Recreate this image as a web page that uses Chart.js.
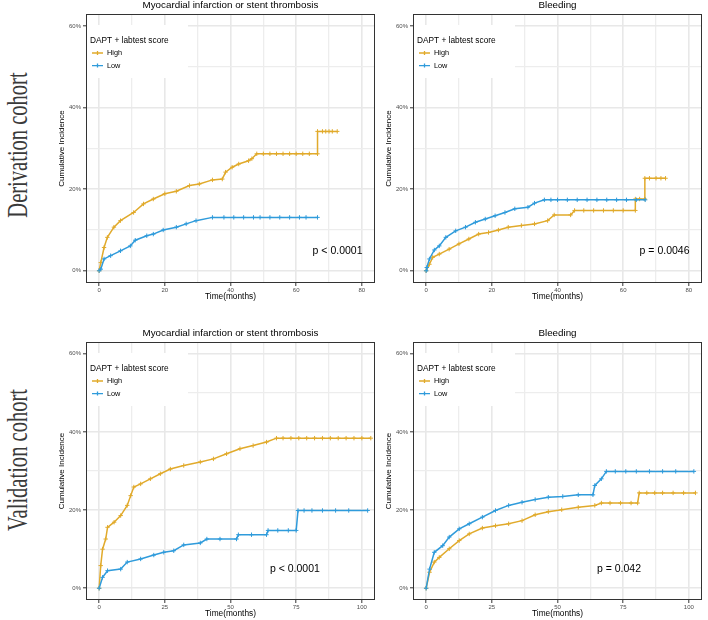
<!DOCTYPE html>
<html>
<head>
<meta charset="utf-8">
<script src="https://cdn.jsdelivr.net/npm/chart.js@4.4.0/dist/chart.umd.min.js"></script>
<style>
  body { margin: 0; width: 708px; height: 620px; background: #fff; position: relative; overflow: hidden; }
  canvas { position: absolute; }
  .cohort {
    position: absolute; width: 240px; height: 36px; line-height: 36px; text-align: center;
    font-family: "Liberation Serif", "DejaVu Serif", serif; font-size: 30px; color: #3a3a3a;
    white-space: nowrap; transform: rotate(-90deg) scaleX(0.684);
  }
</style>
</head>
<body>
<div class="cohort" style="left:-103.5px; top:126.5px">Derivation cohort</div>
<div class="cohort" style="left:-103.5px; top:441.5px">Validation cohort</div>
<canvas id="tl" width="340" height="303" style="left:40px; top:0px"></canvas>
<canvas id="tr" width="340" height="303" style="left:367px; top:0px"></canvas>
<canvas id="bl" width="340" height="292" style="left:40px; top:328px"></canvas>
<canvas id="br" width="340" height="292" style="left:367px; top:328px"></canvas>
<script>
// tick values and labels
const yTicks = [0, 10, 20, 30, 40, 50, 60];
const yTickLabels = ['0%', '', '20%', '', '40%', '', '60%'];
const xTicksDeriv = [0, 10, 20, 30, 40, 50, 60, 70, 80];
const xTickLabelsDeriv = ['0', '', '20', '', '40', '', '60', '', '80'];
const xTicksValid = [0, 12.5, 25, 37.5, 50, 62.5, 75, 87.5, 100];
const xTickLabelsValid = ['0', '', '25', '', '50', '', '75', '', '100'];

const seriesNames = ['High', 'Low'];
const legendTitle = 'DAPT + labtest score';
const HIGH = '#E1AA2B';
const LOW = '#2F9BDB';

// Derivation cohort - MI or stent thrombosis (time in months, cumulative incidence %)
const dMiHighT = [0, 0.5, 1.5, 2.5, 4.5, 6.5, 10.5, 13.5, 16.5, 20, 23.5, 27.5, 30.5, 34.5, 37.5, 38.5, 40.5, 42.5, 45.5, 46.5, 48, 50, 52, 54, 56, 58, 60, 62, 64, 66.5, 66.5, 68, 69, 70, 71, 72.5];
const dMiHighV = [0, 2, 5.7, 8.2, 10.7, 12.3, 14.3, 16.4, 17.6, 18.9, 19.5, 20.9, 21.3, 22.3, 22.5, 24.2, 25.4, 26.2, 27, 27.5, 28.7, 28.7, 28.7, 28.7, 28.7, 28.7, 28.7, 28.7, 28.7, 28.7, 34.2, 34.2, 34.2, 34.2, 34.2, 34.2];
const dMiLowT = [0, 0.5, 1.5, 3.5, 6.5, 9.5, 11, 14.5, 16.5, 19.5, 23.5, 26.5, 29.5, 34.5, 38, 41, 44, 47, 49, 52, 55, 58, 61, 63, 66.5];
const dMiLowV = [0, 0.4, 2.9, 3.7, 4.9, 6.1, 7.5, 8.6, 9.0, 10, 10.7, 11.5, 12.3, 13.1, 13.1, 13.1, 13.1, 13.1, 13.1, 13.1, 13.1, 13.1, 13.1, 13.1, 13.1];

// Derivation cohort - Bleeding
const dBlHighT = [0, 1, 2, 4, 7, 10, 13, 16, 19, 22, 25, 29, 33, 37, 39, 44, 45.2, 48, 51, 54, 57, 60, 63.7, 63.7, 65, 66.6, 66.6, 68, 70, 71.5, 72.9];
const dBlHighV = [0, 1.6, 3.3, 4.1, 5.3, 6.6, 7.8, 9, 9.4, 10, 10.7, 11.1, 11.5, 12.3, 13.7, 13.7, 14.8, 14.8, 14.8, 14.8, 14.8, 14.8, 14.8, 17.6, 17.6, 17.6, 22.7, 22.7, 22.7, 22.7, 22.7];
const dBlLowT = [0, 0.2, 1, 2.5, 4, 6, 9, 12, 15, 18, 21, 24, 27, 31, 33, 36, 38, 40, 43, 46, 49, 52, 55, 58, 61, 64, 66.7];
const dBlLowV = [0, 0.8, 2.9, 5.1, 6.1, 8.2, 9.8, 10.7, 11.9, 12.7, 13.5, 14.3, 15.2, 15.6, 16.6, 17.4, 17.4, 17.4, 17.4, 17.4, 17.4, 17.4, 17.4, 17.4, 17.4, 17.4, 17.4];

// Validation cohort - MI or stent thrombosis
const vMiHighT = [0, 0.6, 1.3, 2.5, 3.2, 5.7, 8.2, 10.7, 12, 13.2, 15.8, 19.5, 23.3, 27.1, 32.2, 38.5, 43.5, 48.5, 53.6, 58.6, 63.7, 67.5, 70, 73, 76, 79, 82, 85, 88, 91, 94, 97, 100, 103.4];
const vMiHighV = [0, 5.8, 10, 12.6, 15.6, 16.9, 18.6, 21.2, 23.7, 25.9, 26.7, 28, 29.3, 30.5, 31.4, 32.3, 33.1, 34.4, 35.7, 36.5, 37.4, 38.4, 38.4, 38.4, 38.4, 38.4, 38.4, 38.4, 38.4, 38.4, 38.4, 38.4, 38.4, 38.4];
const vMiLowT = [0, 1.3, 3.2, 8.2, 10.7, 15.8, 20.8, 24.6, 28.4, 32.2, 38.5, 41, 46, 52.3, 53, 58, 63.7, 64.3, 68, 72, 75, 75.7, 78, 81, 85, 90, 95, 102.2];
const vMiLowV = [0, 2.8, 4.5, 4.9, 6.7, 7.5, 8.5, 9.2, 9.6, 11.1, 11.6, 12.6, 12.6, 12.6, 13.7, 13.7, 13.7, 14.8, 14.8, 14.8, 14.8, 19.9, 19.9, 19.9, 19.9, 19.9, 19.9, 19.9];

// Validation cohort - Bleeding
const vBlHighT = [0, 1.3, 3.1, 5, 8.8, 12.6, 16.4, 21.4, 26.4, 31.4, 36.5, 41.5, 46.5, 51.6, 57.9, 64.2, 66.7, 70, 74, 78, 80.5, 81.1, 84, 87, 90, 94, 98, 102.5];
const vBlHighV = [0, 4.1, 6.7, 7.9, 10.1, 12.2, 13.9, 15.4, 16, 16.5, 17.3, 18.8, 19.6, 20.1, 20.7, 21.2, 21.8, 21.8, 21.8, 21.8, 21.8, 24.4, 24.4, 24.4, 24.4, 24.4, 24.4, 24.4];
const vBlLowT = [0, 1.3, 3.1, 6.3, 8.8, 12.6, 16.4, 21.4, 26.4, 31.4, 36.5, 41.5, 46.5, 52, 57.9, 63.5, 64.2, 66.7, 68.6, 72, 76, 80, 85, 90, 95, 101.9];
const vBlLowV = [0, 4.9, 9.2, 10.9, 13.1, 15.2, 16.5, 18.2, 19.9, 21.2, 22, 22.7, 23.3, 23.5, 23.9, 23.9, 26.3, 28, 29.9, 29.9, 29.9, 29.9, 29.9, 29.9, 29.9, 29.9];

const FONT = '"Liberation Sans", Arial, sans-serif';

// legend, p value, panel border and title
const kmExtras = {
  id: 'kmExtras',
  afterDatasetsDraw(chart, args, opts) {
    const { ctx, chartArea: a, scales: { x, y } } = chart;
    ctx.save();
    ctx.fillStyle = '#fff';
    ctx.fillRect(a.left + 1, a.top + 11, 101, 53);
    ctx.fillStyle = '#000';
    ctx.textAlign = 'left';
    ctx.textBaseline = 'middle';
    ctx.font = '8.3px ' + FONT;
    ctx.fillText(legendTitle, a.left + 4, a.top + 26.5);
    [HIGH, LOW].forEach((col, i) => {
      const yy = a.top + 39 + i * 12.6;
      ctx.strokeStyle = col;
      ctx.lineWidth = 1.3;
      ctx.beginPath();
      ctx.moveTo(a.left + 6, yy); ctx.lineTo(a.left + 17, yy);
      ctx.moveTo(a.left + 11.5, yy - 2); ctx.lineTo(a.left + 11.5, yy + 2);
      ctx.stroke();
      ctx.fillStyle = '#000';
      ctx.font = '7.3px ' + FONT;
      ctx.fillText(seriesNames[i], a.left + 21, yy);
    });
    ctx.font = '10.5px ' + FONT;
    ctx.fillText(opts.pText, x.getPixelForValue(65), y.getPixelForValue(4.8));
    ctx.restore();
  },
  afterDraw(chart, args, opts) {
    const { ctx, chartArea: a } = chart;
    ctx.save();
    ctx.strokeStyle = '#333';
    ctx.lineWidth = 1;
    ctx.strokeRect(a.left + 0.5, a.top + 0.5, a.right - a.left - 1, a.bottom - a.top - 1);
    ctx.fillStyle = '#000';
    ctx.textAlign = 'center';
    ctx.textBaseline = 'middle';
    ctx.font = '9.8px ' + FONT;
    ctx.fillText(opts.title, (a.left + a.right) / 2, 5.7);
    ctx.restore();
  }
};

function series(label, ts, vs, color, order) {
  return {
    label: label,
    data: ts.map((t, i) => ({ x: t, y: vs[i] })),
    borderColor: color,
    backgroundColor: color,
    borderWidth: 1.5,
    pointStyle: 'cross',
    pointRadius: 2.2,
    pointBorderWidth: 1,
    pointBorderColor: color,
    fill: false,
    tension: 0,
    order: order
  };
}

function panel(id, title, high, low, xTicks, xLabels, xMin, xMax, pText) {
  new Chart(document.getElementById(id), {
    type: 'line',
    data: {
      datasets: [
        series('High', high[0], high[1], HIGH, 1),
        series('Low', low[0], low[1], LOW, 0)
      ]
    },
    options: {
      responsive: false,
      animation: false,
      devicePixelRatio: 1,
      layout: { padding: { left: 0, right: 2, top: 14, bottom: 0 } },
      plugins: {
        legend: { display: false },
        tooltip: { enabled: false },
        kmExtras: { title: title, pText: pText }
      },
      scales: {
        x: {
          type: 'linear',
          min: xMin, max: xMax,
          afterBuildTicks: axis => { axis.ticks = xTicks.map(v => ({ value: v })); },
          afterFit: axis => { axis.height = 20; },
          ticks: {
            autoSkip: false, maxRotation: 0, padding: 0.5,
            color: '#4D4D4D', font: { family: FONT, size: 6 },
            callback: (v, i) => xLabels[i]
          },
          grid: {
            color: c => (xLabels[c.index] ? '#E8E8E8' : '#EDEDED'),
            lineWidth: c => (xLabels[c.index] ? 1.6 : 1.3),
            tickLength: 3, tickWidth: 1,
            tickColor: c => (xLabels[c.index] ? '#333' : 'rgba(0,0,0,0)')
          },
          border: { display: false },
          title: {
            display: true, text: 'Time(months)', color: '#000',
            font: { family: FONT, size: 8.3 }, padding: { top: 0, bottom: 1.7 }
          }
        },
        y: {
          min: -3, max: 63,
          afterBuildTicks: axis => { axis.ticks = yTicks.map(v => ({ value: v })); },
          afterFit: axis => { axis.width = 46; },
          ticks: {
            autoSkip: false, padding: 2,
            color: '#4D4D4D', font: { family: FONT, size: 6 },
            callback: (v, i) => yTickLabels[i]
          },
          grid: {
            color: c => (yTickLabels[c.index] ? '#E8E8E8' : '#EDEDED'),
            lineWidth: c => (yTickLabels[c.index] ? 1.6 : 1.3),
            tickLength: 3, tickWidth: 1,
            tickColor: c => (yTickLabels[c.index] ? '#333' : 'rgba(0,0,0,0)')
          },
          border: { display: false },
          title: {
            display: true, text: 'Cumulative Incidence', color: '#000',
            font: { family: FONT, size: 8 }, padding: { top: 16.7, bottom: 0 }
          }
        }
      }
    },
    plugins: [kmExtras]
  });
}

panel('tl', 'Myocardial infarction or stent thrombosis', [dMiHighT, dMiHighV], [dMiLowT, dMiLowV],
  xTicksDeriv, xTickLabelsDeriv, -4, 84, 'p < 0.0001');
panel('tr', 'Bleeding', [dBlHighT, dBlHighV], [dBlLowT, dBlLowV],
  xTicksDeriv, xTickLabelsDeriv, -4, 84, 'p = 0.0046');
panel('bl', 'Myocardial infarction or stent thrombosis', [vMiHighT, vMiHighV], [vMiLowT, vMiLowV],
  xTicksValid, xTickLabelsValid, -5, 105, 'p < 0.0001');
panel('br', 'Bleeding', [vBlHighT, vBlHighV], [vBlLowT, vBlLowV],
  xTicksValid, xTickLabelsValid, -5, 105, 'p = 0.042');
</script>
</body>
</html>
